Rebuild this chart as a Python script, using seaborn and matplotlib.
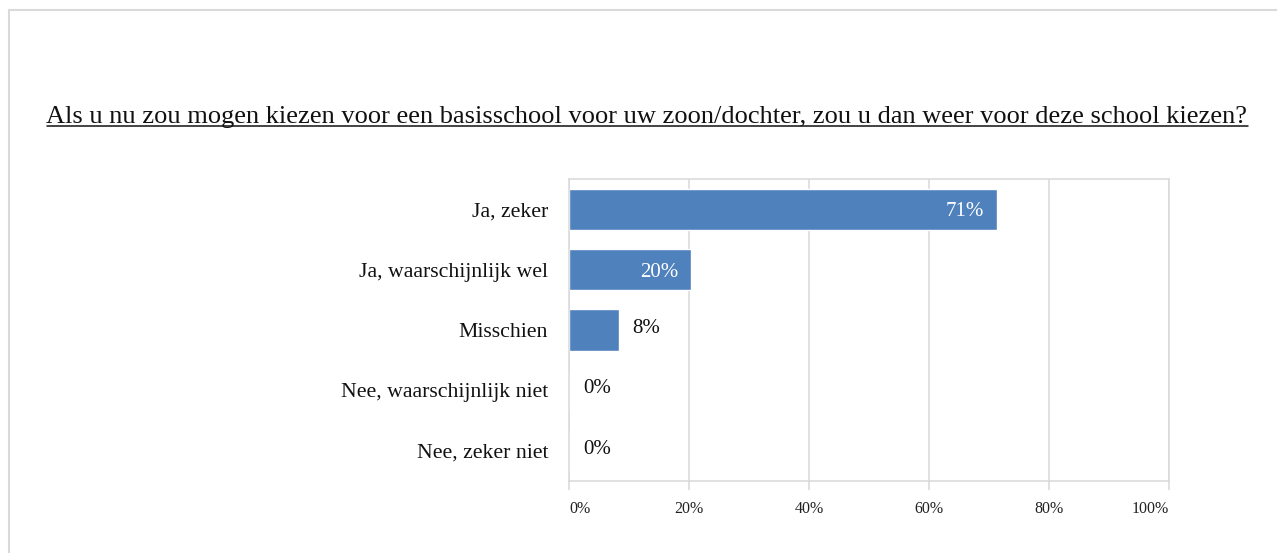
import matplotlib
matplotlib.use("Agg")
import matplotlib.pyplot as plt
from matplotlib.patches import Rectangle
from matplotlib.lines import Line2D
import seaborn as sns
import pandas as pd

categories = ["Ja, zeker", "Ja, waarschijnlijk wel", "Misschien",
              "Nee, waarschijnlijk niet", "Nee, zeker niet"]
values = [71.3, 20.3, 8.3, 0.0, 0.0]
value_labels = ["71%", "20%", "8%", "0%", "0%"]
xticks = [0, 20, 40, 60, 80, 100]
xtick_labels = ["0%", "20%", "40%", "60%", "80%", "100%"]
title = "Als u nu zou mogen kiezen voor een basisschool voor uw zoon/dochter, zou u dan weer voor deze school kiezen?"

sns.set_theme(style="white")
plt.rcParams["font.family"] = ["Liberation Serif", "DejaVu Serif"]

W, H = 1277, 553
fig = plt.figure(figsize=(W / 100, H / 100), dpi=100)
ax = fig.add_axes([569 / W, 1 - 481 / H, 600 / W, 302 / H])

df = pd.DataFrame({"cat": categories, "val": values})
bar_color = "#4F81BD"
grid_color = "#D9D9D9"
text_color = "#111111"
sns.barplot(data=df, x="val", y="cat", orient="h", color=bar_color,
            saturation=1, width=0.68, ax=ax)

ax.set_xlim(0, 100)
ax.set_xticks(xticks)
ax.set_xticklabels(xtick_labels, fontsize=11.5, color="#222222")
for i, lab in enumerate(ax.get_xticklabels()):
    if i == 0:
        lab.set_ha("left")
    elif i == len(xticks) - 1:
        lab.set_ha("right")
ax.tick_params(axis="x", direction="out", length=6.5, width=1.1,
               color=grid_color, pad=8, bottom=True)
ax.tick_params(axis="y", length=0, pad=15, labelsize=15.7, labelcolor=text_color)
ax.set_xlabel("")
ax.set_ylabel("")
ax.grid(axis="x", color=grid_color, linewidth=1.1)
ax.set_axisbelow(True)
for s in ax.spines.values():
    s.set_visible(True)
    s.set_color(grid_color)
    s.set_linewidth(1.1)

# data labels
for patch, lab in zip(ax.patches, value_labels):
    w = patch.get_width()
    yc = patch.get_y() + patch.get_height() / 2
    if w > 15:
        ax.annotate(lab, (w, yc), xytext=(-9, 0), textcoords="offset points",
                    ha="right", va="center_baseline", color="white", fontsize=15)
    else:
        ax.annotate(lab, (w, yc - 0.07), xytext=(10, 0), textcoords="offset points",
                    ha="left", va="center_baseline", color=text_color, fontsize=15)

# title with underline
t = fig.text(647 / W, 1 - 123 / H, title, ha="center", va="baseline",
             fontsize=19.0, color=text_color)
fig.canvas.draw()
bb = t.get_window_extent(renderer=fig.canvas.get_renderer())
uy = (H - 126) / H
fig.add_artist(Line2D([bb.x0 / W, bb.x1 / W], [uy, uy], color=text_color,
                      linewidth=1.1, transform=fig.transFigure))

# outer border
fig.add_artist(Rectangle((9 / W, -0.05), 1.2, (1 - 10 / H) + 0.05,
                         transform=fig.transFigure, fill=False,
                         edgecolor=grid_color, linewidth=1.5))

fig.savefig("out.png", dpi=100)
